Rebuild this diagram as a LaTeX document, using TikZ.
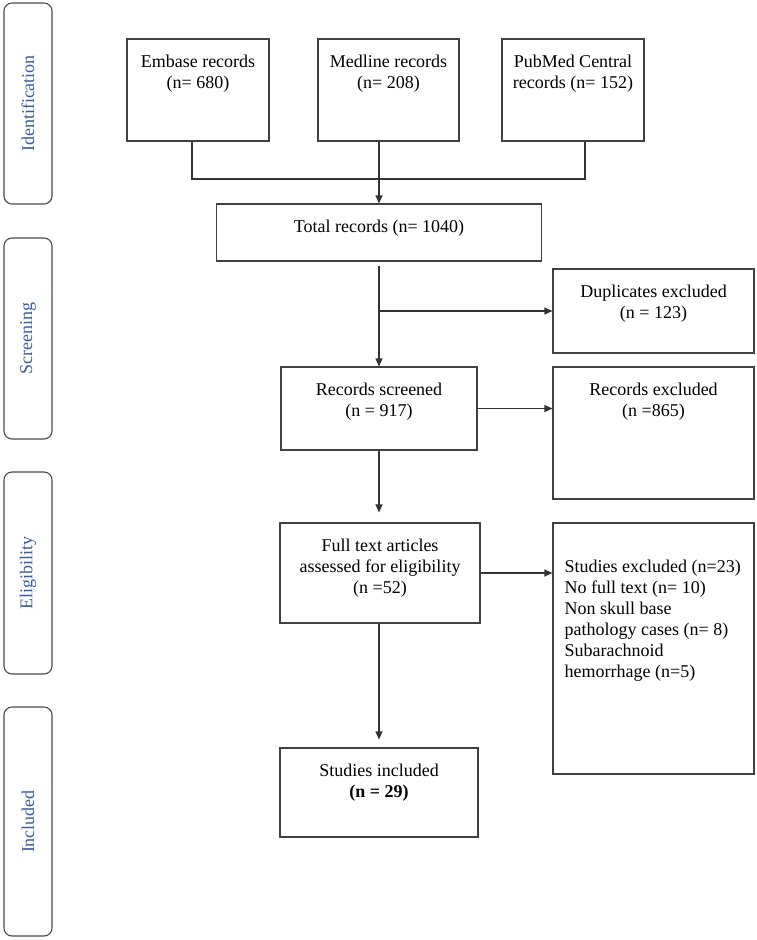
\documentclass[tikz,border=0pt]{standalone}
\usepackage{fontspec}
\setmainfont{Liberation Serif}
\usetikzlibrary{arrows.meta,positioning}

\definecolor{phaseblue}{RGB}{58,92,160}
\newcommand{\boxfont}{\fontsize{18}{21}\selectfont}

\tikzset{
  box/.style={draw=black!75, line width=1.1pt, inner sep=0pt},
  phase/.style={draw=black!70, line width=1.1pt, rounded corners=8pt, rotate=90,
    minimum height=48pt, text=phaseblue, font=\boxfont},
  line/.style={draw=black!80, line width=1.1pt},
  arr/.style={line, -{Triangle[length=8pt,width=7pt]}},
  intext/.style={anchor=north, yshift=-16.5pt, align=center, inner sep=0pt, font=\boxfont},
  inleft/.style={anchor=north west, xshift=12pt, yshift=-37.5pt, align=left, inner sep=0pt, font=\boxfont}
}

\begin{document}
\begin{tikzpicture}[x=1pt, y=-1pt]
	\useasboundingbox (0,0) rectangle (756,940);
	% Phases
	\node[phase, minimum width=201pt] (ident) at (28,103.5) {Identification};
	\node[phase, minimum width=201pt] (screen) at (28,338.5) {Screening};
	\node[phase, minimum width=202pt] (elig) at (28,573) {Eligibility};
	\node[phase, minimum width=229pt] (inclphase) at (28,821.5) {Included};
	% Sources
	\node[box, minimum width=142pt, minimum height=102pt,
	  label={[intext]north:{Embase records\\(n= 680)}}] (embase) at (198,90) {};
	\node[box, minimum width=141pt, minimum height=102pt,
	  label={[intext]north:{Medline records\\(n= 208)}}] (medline) at (388.5,90) {};
	\node[box, minimum width=142pt, minimum height=102pt,
	  label={[intext]north:{PubMed Central\\records (n= 152)}}] (pubmed) at (573,90) {};
	% Main column
	\node[box, minimum width=325pt, minimum height=57pt,
	  label={[intext]north:{Total records (n= 1040)}}] (total) at (379,232.5) {};
	\node[box, minimum width=196pt, minimum height=83pt,
	  label={[intext]north:{Records screened\\(n = 917)}}] (screened) at (379,408.5) {};
	\node[box, minimum width=200pt, minimum height=100pt,
	  label={[intext]north:{Full text articles\\assessed for eligibility\\(n =52)}}] (full) at (380,573) {};
	\node[box, minimum width=198pt, minimum height=89pt,
	  label={[intext]north:{Studies included\\\textbf{(n = 29)}}}] (incl) at (379,792.5) {};
	% Exclusions
	\node[box, minimum width=201pt, minimum height=84pt,
	  label={[intext]north:{Duplicates excluded\\(n = 123)}}] (dup) at (653.5,311) {};
	\node[box, minimum width=201pt, minimum height=132pt,
	  label={[intext]north:{Records excluded\\(n =865)}}] (excl) at (653.5,433) {};
	\node[box, minimum width=201pt, minimum height=251pt,
	  label={[inleft]north west:{Studies excluded (n=23)\\No full text (n= 10)\\Non skull base\\pathology cases (n= 8)\\Subarachnoid\\hemorrhage (n=5)}}] (studexcl) at (653.5,648.5) {};
	% Connectors
	\coordinate (join) at (379,179);
	\draw[line] ([xshift=-6pt]embase.south) |- (join) -| ([xshift=12pt]pubmed.south);
	\draw[arr] (medline.south -| join) -- (total.north);
	\draw[arr, shorten <=4pt] (total.south) -- (screened.north);
	\draw[arr] (total.south |- dup.west) -- (dup.west);
	\draw[arr] (screened.east) -- (screened.east -| excl.west);
	\draw[arr, shorten >=10pt] (screened.south) -- (screened.south |- full.north);
	\draw[arr] (full.east) -- (full.east -| studexcl.west);
	\draw[arr, shorten >=8pt] (full.south -| incl.north) -- (incl.north);
\end{tikzpicture}
\end{document}
